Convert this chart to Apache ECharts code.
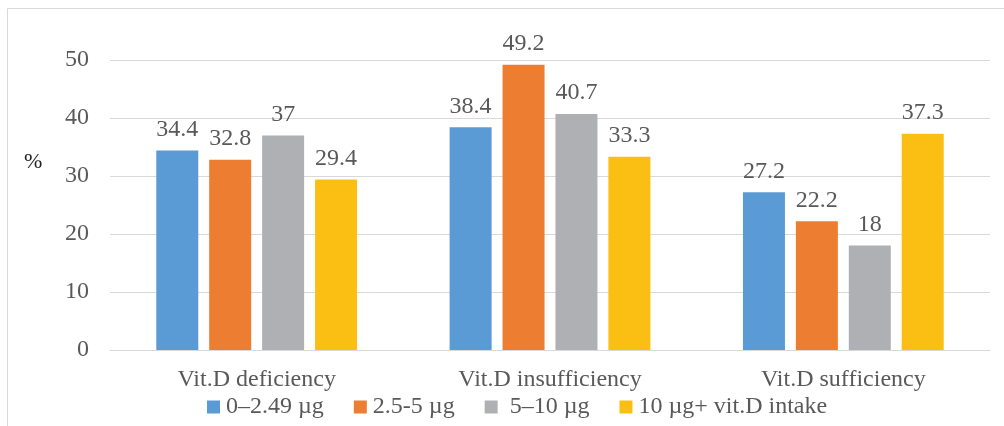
<!DOCTYPE html>
<html><head><meta charset="utf-8">
<script src="https://cdn.jsdelivr.net/npm/echarts@6/dist/echarts.min.js"></script>
<style>html,body{margin:0;padding:0;background:#fff}#c{width:1004px;height:426px}</style>
</head><body><div id="c"></div>
<script>
const categories = ['Vit.D deficiency', 'Vit.D insufficiency', 'Vit.D sufficiency'];
const seriesNames = ['0–2.49 µg', '2.5-5 µg', ' 5–10 µg', '10 µg+ vit.D intake'];
const s1 = [34.4, 38.4, 27.2];
const s2 = [32.8, 49.2, 22.2];
const s3 = [37, 40.7, 18];
const s4 = [29.4, 33.3, 37.3];
const yTicks = [0, 10, 20, 30, 40, 50];
const colors = ['#5B9BD5', '#ED7D31', '#AFB0B3', '#FBBF14'];
const font = '"Liberation Serif", serif';
const chart = echarts.init(document.getElementById('c'));
const data = [s1, s2, s3, s4];
chart.setOption({
  animation: false,
  textStyle: {fontFamily: font},
  graphic: [
    {type: 'rect', shape: {x: 7.5, y: 8.5, width: 1010, height: 430}, style: {fill: 'none', stroke: '#d9d9d9', lineWidth: 1}},
    {type: 'text', left: 24, top: 151, style: {text: '%', font: '22px ' + font, fill: '#222'}}
  ],
  legend: {
    top: 390, left: 202, itemWidth: 13, itemHeight: 13, itemGap: 30,
    icon: 'rect',
    textStyle: {fontSize: 24, color: '#595959', fontFamily: font, padding: [0, 0, 0, 1]},
    data: seriesNames
  },
  grid: {left: 110, right: 14, top: 60, bottom: 76},
  xAxis: {
    type: 'category', data: categories,
    axisLine: {lineStyle: {color: '#d9d9d9'}}, axisTick: {show: false},
    axisLabel: {fontSize: 24, color: '#595959', margin: 18, fontFamily: font}
  },
  yAxis: {
    type: 'value', min: yTicks[0], max: yTicks[yTicks.length - 1], interval: 10,
    axisLine: {show: false}, axisTick: {show: false},
    splitLine: {lineStyle: {color: '#d9d9d9', width: 1}},
    axisLabel: {fontSize: 24, color: '#595959', margin: 21, fontFamily: font}
  },
  series: data.map((d, i) => ({
    name: seriesNames[i], type: 'bar', data: d, barWidth: 42, barGap: '26%',
    itemStyle: {color: colors[i]},
    label: {show: true, position: 'top', distance: 9, fontSize: 24, color: '#595959', fontFamily: font}
  }))
});
</script></body></html>
